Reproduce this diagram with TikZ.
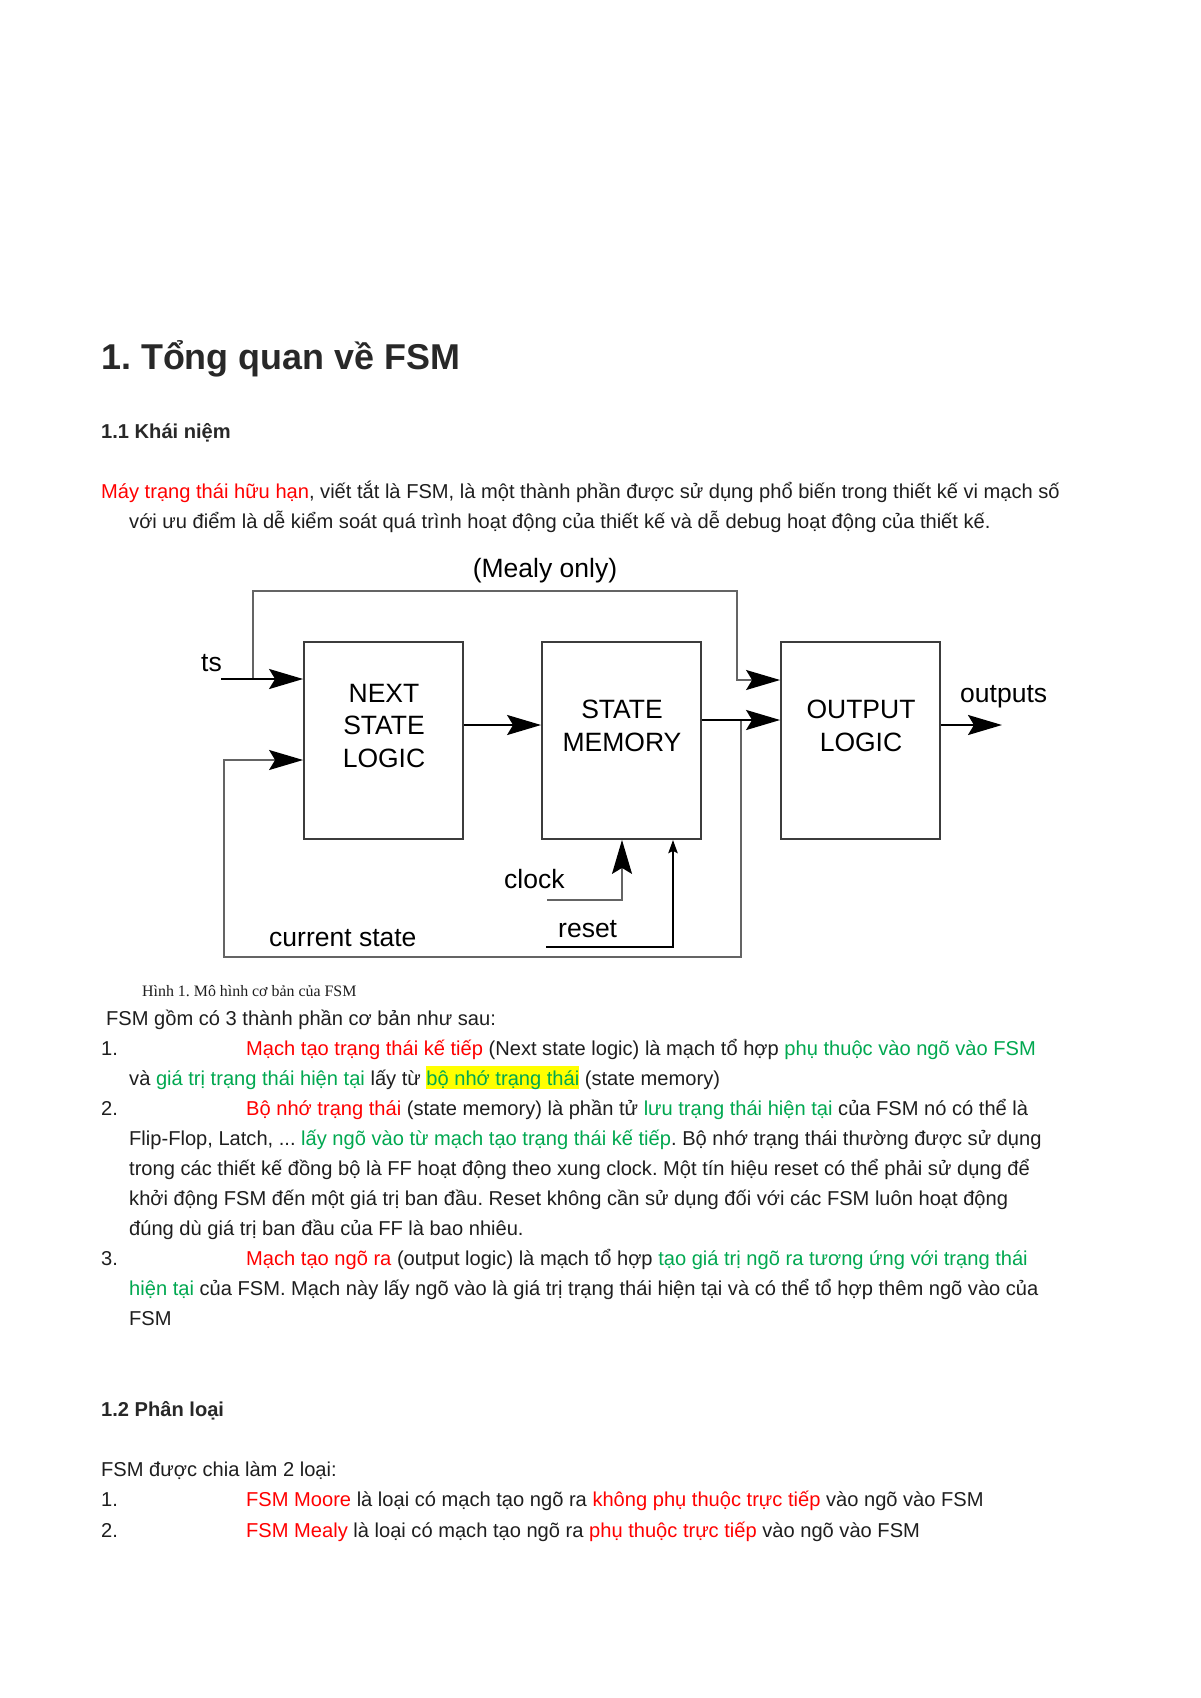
\documentclass[tikz,border=0pt]{standalone}
\usepackage{fontspec}
\setmainfont{Liberation Sans}
\newfontfamily\capfont{Liberation Serif}
\usetikzlibrary{arrows.meta}
\frenchspacing
\definecolor{tred}{RGB}{255,0,0}
\definecolor{tgreen}{RGB}{0,168,80}
\definecolor{ink}{RGB}{30,30,30}
\definecolor{headink}{RGB}{40,40,40}
\definecolor{hlyellow}{RGB}{255,255,0}
\definecolor{boxc}{RGB}{60,60,60}
\definecolor{wirec}{RGB}{100,100,100}
\newcommand{\rd}[1]{\textcolor{tred}{#1}}
\newcommand{\gr}[1]{\textcolor{tgreen}{#1}}
\newcommand{\hly}[1]{{\setlength{\fboxsep}{0pt}\colorbox{hlyellow}{\rule[-4pt]{0pt}{23pt}#1}}}
\tikzset{
  bighead/.tip={Stealth[length=34pt,width=20pt,inset=6pt,color=black]},
  smallhead/.tip={Stealth[length=13pt,width=9pt,inset=2pt,color=black]},
}
\begin{document}
\begin{tikzpicture}[x=1pt,y=-1pt,
  body/.style={anchor=base west, inner sep=0pt, text=ink, font=\fontsize{20.1}{24}\selectfont\frenchspacing},
  h1/.style={anchor=base west, inner sep=0pt, text=headink, font=\fontsize{35.9}{40}\selectfont\bfseries},
  h2/.style={anchor=base west, inner sep=0pt, text=headink, font=\fontsize{20.1}{24}\selectfont\bfseries},
  captext/.style={anchor=base west, inner sep=0pt, text=ink, font=\fontsize{15.9}{18}\selectfont\capfont},
  dtext/.style={anchor=base, inner sep=0pt, text=black, font=\fontsize{26.5}{30}\selectfont},
  dtextw/.style={dtext, anchor=base west},
  fsmbox/.style={draw=boxc, line width=1.8pt, minimum width=159pt, minimum height=197pt, inner sep=0pt},
  thickw/.style={draw=black, line width=2.4pt},
  thinw/.style={draw=wirec, line width=1.6pt},
]
\useasboundingbox (0,0) rectangle (1200,1698);
\fill[white] (0,0) rectangle (1200,1698);

% headings and first paragraph
\node[h1] (title) at (101,369) {1. Tổng quan về FSM};
\node[h2] (sec11) at (101,438) {1.1 Khái niệm};
\node[body] (p1) at (101,498) {\rd{Máy trạng thái hữu hạn}, viết tắt là FSM, là một thành phần được sử dụng phổ biến trong thiết kế vi mạch số};
\node[body] (p2) at (129,528) {với ưu điểm là dễ kiểm soát quá trình hoạt động của thiết kế và dễ debug hoạt động của thiết kế.};

% diagram
\node[fsmbox] (nsl) at (383.5,740.5) {};
\node[fsmbox] (sm) at (621.5,740.5) {};
\node[fsmbox] (ol) at (860.5,740.5) {};
\node[dtext] (nslA) at (384,702) {NEXT};
\node[dtext] (nslB) at (384,734) {STATE};
\node[dtext] (nslC) at (384,767) {LOGIC};
\node[dtext] (smA) at (622,718) {STATE};
\node[dtext] (smB) at (622,751) {MEMORY};
\node[dtext] (olA) at (861,718) {OUTPUT};
\node[dtext] (olB) at (861,751) {LOGIC};
\node[dtext] (mealy) at (545,577) {(Mealy only)};
\node[dtext, anchor=base east] (ts) at (222,671) {ts};
\node[dtextw] (outs) at (960,702) {outputs};
\node[dtextw] (clk) at (504,888) {clock};
\node[dtextw] (rst) at (558,937) {reset};
\node[dtextw] (cur) at (269,946) {current state};

\coordinate (inS) at (221,679);
\coordinate (mealyS) at (253,679);
\coordinate (mealyR) at (737,591);
\coordinate (curS) at (741,720);
\coordinate (curB) at (741,957);
\coordinate (curL) at (224,760);
\coordinate (clkS) at (547,900);
\coordinate (rstS) at (546,947);
\coordinate (outE) at (1002,725);

\draw[thinw, -{bighead}] (mealyS) |- (mealyR) -- (737,680) -- (ol.west |- 0,680);
\draw[thinw, -{bighead}] (curS) -- (curB) -| (curL) -- (nsl.west |- curL);
\draw[thickw, -{bighead}] (inS) -- (inS -| nsl.west);
\draw[thickw, -{bighead}] (nsl.east |- 0,725) -- (sm.west |- 0,725);
\draw[thickw, -{bighead}] (sm.east |- 0,720) -- (ol.west |- 0,720);
\draw[thickw, -{bighead}] (ol.east |- outE) -- (outE);
\draw[thinw, -{bighead}] (clkS) -| (sm.south -| 622,0);
\draw[thickw, line width=2.8pt, -{smallhead}] (rstS) -| (sm.south -| 673,0);

% caption and list
\node[captext] (cap) at (142,996) {Hình 1. Mô hình cơ bản của FSM};
\node[body] (q0) at (106,1025) {FSM gồm có 3 thành phần cơ bản như sau:};
\node[body] (n1) at (101,1055) {1.};
\node[body] (q1) at (246,1055) {\rd{Mạch tạo trạng thái kế tiếp} (Next state logic) là mạch tổ hợp \gr{phụ thuộc vào ngõ vào FSM}};
\node[body] (q2) at (129,1085) {và \gr{giá trị trạng thái hiện tại} lấy từ \hly{\gr{bộ nhớ trạng thái}} (state memory)};
\node[body] (n2) at (101,1115) {2.};
\node[body] (q3) at (246,1115) {\rd{Bộ nhớ trạng thái} (state memory) là phần tử \gr{lưu trạng thái hiện tại} của FSM nó có thể là};
\node[body] (q4) at (129,1145) {Flip-Flop, Latch, ... \gr{lấy ngõ vào từ mạch tạo trạng thái kế tiếp}. Bộ nhớ trạng thái thường được sử dụng};
\node[body] (q5) at (129,1175) {trong các thiết kế đồng bộ là FF hoạt động theo xung clock. Một tín hiệu reset có thể phải sử dụng để};
\node[body] (q6) at (129,1205) {khởi động FSM đến một giá trị ban đầu. Reset không cần sử dụng đối với các FSM luôn hoạt động};
\node[body] (q7) at (129,1235) {đúng dù giá trị ban đầu của FF là bao nhiêu.};
\node[body] (n3) at (101,1265) {3.};
\node[body] (q8) at (246,1265) {\rd{Mạch tạo ngõ ra} (output logic) là mạch tổ hợp \gr{tạo giá trị ngõ ra tương ứng với trạng thái}};
\node[body] (q9) at (129,1295) {\gr{hiện tại} của FSM. Mạch này lấy ngõ vào là giá trị trạng thái hiện tại và có thể tổ hợp thêm ngõ vào của};
\node[body] (q10) at (129,1325) {FSM};

\node[h2] (sec12) at (101,1416) {1.2 Phân loại};
\node[body] (r0) at (101,1476) {FSM được chia làm 2 loại:};
\node[body] (m1) at (101,1506) {1.};
\node[body] (r1) at (246,1506) {\rd{FSM Moore} là loại có mạch tạo ngõ ra \rd{không phụ thuộc trực tiếp} vào ngõ vào FSM};
\node[body] (m2) at (101,1537) {2.};
\node[body] (r2) at (246,1537) {\rd{FSM Mealy} là loại có mạch tạo ngõ ra \rd{phụ thuộc trực tiếp} vào ngõ vào FSM};
\end{tikzpicture}
\end{document}
